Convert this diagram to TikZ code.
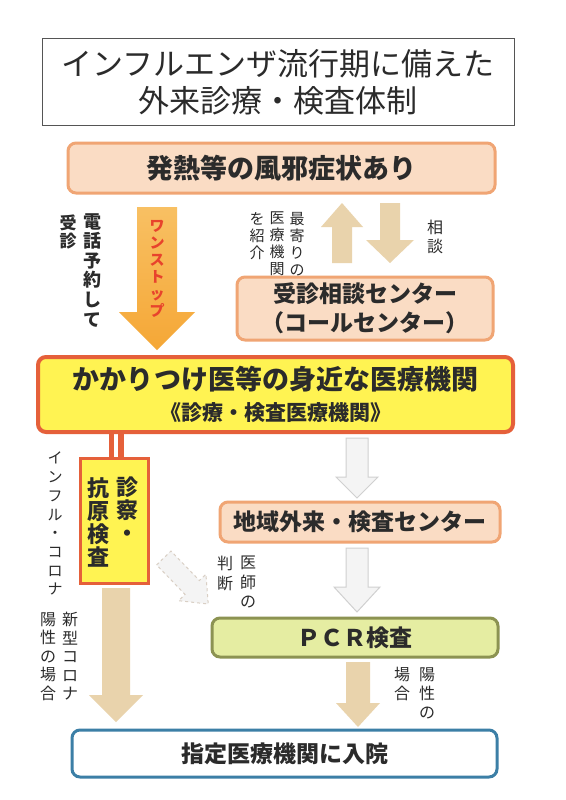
\documentclass[tikz,border=0pt]{standalone}
\usepackage{fontspec}
\setmainfont{Noto Sans CJK JP}
\usetikzlibrary{calc}
\definecolor{textdark}{HTML}{2B2B2B}
\definecolor{titleline}{HTML}{555555}
\definecolor{peachfill}{HTML}{FADCC4}
\definecolor{peachline}{HTML}{F0A574}
\definecolor{clinicfill}{HTML}{FFF352}
\definecolor{clinicline}{HTML}{E5603A}
\definecolor{pcrfill}{HTML}{E5EDA2}
\definecolor{pcrline}{HTML}{8C9352}
\definecolor{wardline}{HTML}{3C7FA6}
\definecolor{tanarrow}{HTML}{E9D3AC}
\definecolor{greyfill}{HTML}{F4F4F4}
\definecolor{greyline}{HTML}{D0D0D0}
\definecolor{dashline}{HTML}{D9CFC4}
\definecolor{orangetop}{HTML}{F8C063}
\definecolor{orangebot}{HTML}{F5A736}
\definecolor{stopred}{HTML}{E8432C}
% block arrow: [style] x, y of tail, y of tip, half shaft, half head, head length
\newcommand{\blockarrow}[7][]{%
  \draw[#1] ({#2-#5},{#3}) -- ({#2+#5},{#3}) -- ({#2+#5},{#4-(#7)}) -- ({#2+#6},{#4-(#7)})
    -- ({#2},{#4}) -- ({#2-#6},{#4-(#7)}) -- ({#2-#5},{#4-(#7)}) -- cycle;}

\begin{document}
\begin{tikzpicture}[x=1pt,y=-1pt,
   box/.style={draw,line width=3pt,rounded corners=8pt,inner sep=0pt,align=center,
               text=textdark,font=\bfseries\fontsize{23}{29}\selectfont},
   peachbox/.style={box,fill=peachfill,draw=peachline},
   vlabel/.style={inner sep=0pt,align=center,anchor=north,text=textdark}]
  \useasboundingbox[fill=white] (0,0) rectangle (565,800);
  \node[draw=titleline,line width=1pt,fill=white,minimum width=472pt,minimum height=87pt,
        align=center,text=textdark,font=\fontsize{31}{37}\selectfont] (title) at (278,82)
        {インフルエンザ流行期に備えた\\外来診療・検査体制};
  \node[peachbox,minimum width=427pt,minimum height=50pt,font=\bfseries\fontsize{27}{32}\selectfont]
        (fever) at (281.5,168) {発熱等の風邪症状あり};
  \node[peachbox,minimum width=256pt,minimum height=63pt] (call) at (365,308.5)
        {受診相談センター\\（コールセンター）};
  \node[box,fill=clinicfill,draw=clinicline,line width=4pt,minimum width=475pt,minimum height=75pt,
        font=\bfseries\fontsize{27}{31}\selectfont] (clinic) at (275.5,394.5)
        {かかりつけ医等の身近な医療機関\\{\fontsize{21}{21}\selectfont 《診療・検査医療機関》}};
  \node[box,fill=clinicfill,draw=clinicline,minimum width=68pt,minimum height=125pt,
        rounded corners=0pt] (exam) at (114,520.5) {};
  \node[peachbox,minimum width=280pt,minimum height=40pt] (local) at (360,522)
        {地域外来・検査センター};
  \node[box,fill=pcrfill,draw=pcrline,minimum width=286pt,minimum height=39pt] (pcr) at (355,637.5)
        {ＰＣＲ検査};
  \node[box,fill=white,draw=wardline,minimum width=425pt,minimum height=47pt] (ward) at (284.5,753.5)
        {指定医療機関に入院};

  % red double bar
  \draw[clinicline,line width=5pt] ([xshift=-3pt]exam.north) -- ([xshift=-3pt]exam.north |- clinic.south);
  \draw[clinicline,line width=6pt] ([xshift=7pt]exam.north) -- ([xshift=7pt]exam.north |- clinic.south);

  % block arrows
  \blockarrow[top color=orangetop,bottom color=orangebot,draw=none]{157}{207}{350}{20}{38}{38}
  \blockarrow[fill=tanarrow,draw=none]{342}{263}{203}{10}{21}{-24}
  \blockarrow[fill=tanarrow,draw=none]{390}{203}{263}{10}{24}{23}
  \blockarrow[fill=tanarrow,draw=none]{116}{588}{722}{14}{27}{27}
  \blockarrow[fill=tanarrow,draw=none]{358}{662}{727}{12}{22}{24}
  \blockarrow[fill=greyfill,draw=greyline,line width=1pt]{357}{438}{498}{11}{21}{21}
  \blockarrow[fill=greyfill,draw=greyline,line width=1pt]{357}{548}{612}{11}{23}{25}
  \begin{scope}[shift={(186,581)},rotate=44]
    \blockarrow[fill=greyfill,draw=dashline,line width=1pt,dashed]{0}{-32}{32}{10}{19}{23}
  \end{scope}

  % vertical labels
  \node[vlabel,text=stopred,font=\bfseries\fontsize{15}{17}\selectfont] (stop) at (157,220)
        {ワ\\ン\\ス\\ト\\ッ\\プ};
  \node[vlabel,font=\bfseries\fontsize{18}{19.6}\selectfont] (phone) at (92,213)
        {電\\話\\予\\約\\し\\て};
  \node[vlabel,font=\bfseries\fontsize{17}{18}\selectfont] (visit) at (68,215) {受\\診};
  \node[vlabel,font=\fontsize{15}{17}\selectfont] (near1) at (297,212) {最\\寄\\り\\の};
  \node[vlabel,font=\fontsize{15}{17}\selectfont] (near2) at (277,212) {医\\療\\機\\関};
  \node[vlabel,font=\fontsize{15}{17}\selectfont] (near3) at (257,212) {を\\紹\\介};
  \node[vlabel,font=\fontsize{16}{19}\selectfont] (consult) at (435,220) {相\\談};
  \node[vlabel,font=\bfseries\fontsize{22}{23}\selectfont] (exam1) at (127,477) {診\\察\\・};
  \node[vlabel,font=\bfseries\fontsize{22}{23}\selectfont] (exam2) at (98,477) {抗\\原\\検\\査};
  \node[vlabel,font=\fontsize{15}{18.7}\selectfont] (flu) at (55,452)
        {イ\\ン\\フ\\ル\\・\\コ\\ロ\\ナ};
  \node[vlabel,font=\fontsize{16}{18.5}\selectfont] (covid1) at (70,612) {新\\型\\コ\\ロ\\ナ};
  \node[vlabel,font=\fontsize{16}{18.5}\selectfont] (covid2) at (48,612) {陽\\性\\の\\場\\合};
  \node[vlabel,font=\fontsize{16}{19.5}\selectfont] (doc1) at (248,556) {医\\師\\の};
  \node[vlabel,font=\fontsize{16}{19.5}\selectfont] (doc2) at (225,556) {判\\断};
  \node[vlabel,font=\fontsize{16}{19}\selectfont] (pos1) at (427,667) {陽\\性\\の};
  \node[vlabel,font=\fontsize{16}{19}\selectfont] (pos2) at (402,667) {場\\合};
\end{tikzpicture}
\end{document}
